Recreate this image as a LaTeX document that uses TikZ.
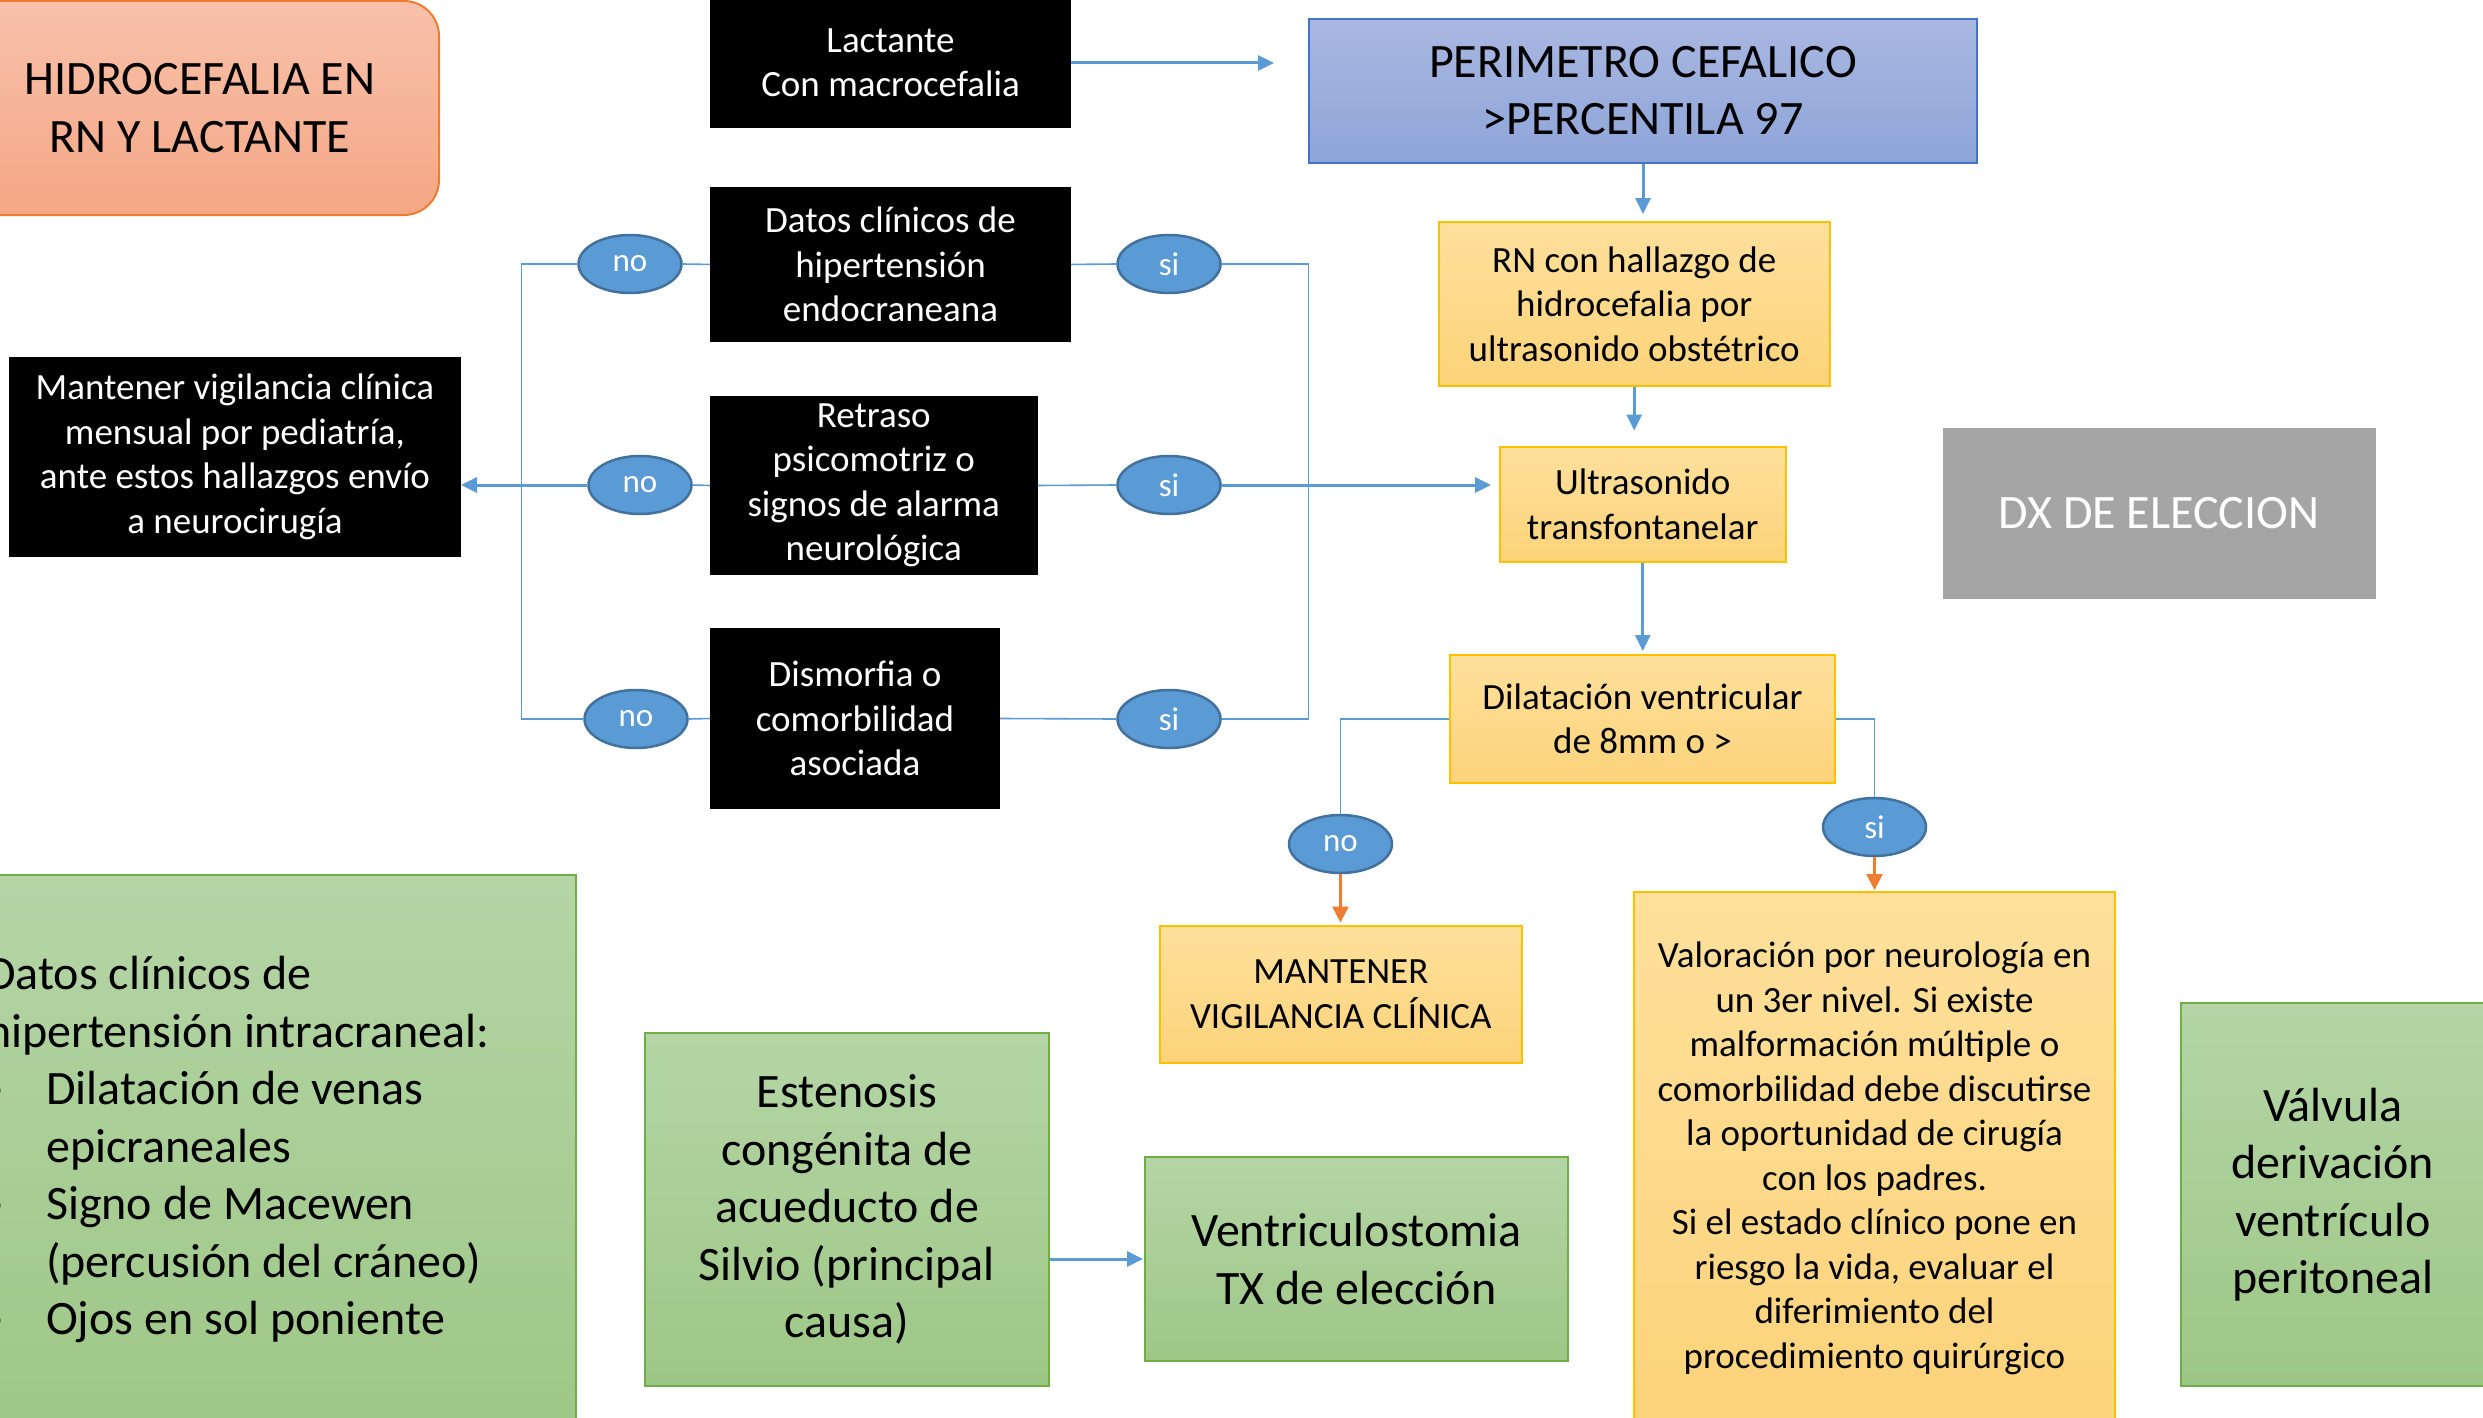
\documentclass[tikz,border=0pt]{standalone}
\usepackage{fontspec}
\setmainfont{Carlito}
\usetikzlibrary{arrows.meta,shapes.geometric}
\definecolor{lblue}{HTML}{5B9BD5}
\definecolor{dblue}{HTML}{41719C}
\definecolor{orng}{HTML}{ED7D31}
\definecolor{ytop}{RGB}{254,224,156}
\definecolor{ybot}{RGB}{253,211,122}
\definecolor{ybord}{HTML}{FFC000}
\definecolor{gtop}{RGB}{181,213,166}
\definecolor{gbot}{RGB}{157,199,134}
\definecolor{gbord}{HTML}{70AD47}
\definecolor{btop}{RGB}{169,183,225}
\definecolor{bbot}{RGB}{142,165,216}
\definecolor{bbord}{HTML}{4472C4}
\definecolor{otop}{RGB}{248,193,171}
\definecolor{obot}{RGB}{244,167,133}
\definecolor{gry}{HTML}{A5A5A5}
\newcommand\fsA{\fontsize{37}{44.5}\selectfont}
\newcommand\fsB{\fontsize{48}{57.5}\selectfont}
\newcommand\fsC{\fontsize{33}{38}\selectfont}
\begin{document}
\begin{tikzpicture}[x=1pt,y=-1pt,
  box/.style={rectangle, inner sep=0pt, align=center, line width=2pt},
  blk/.style={box, fill=black, draw=black, text=white, font=\fsA},
  ylw/.style={box, draw=ybord, top color=ytop, bottom color=ybot, font=\fsA},
  grn/.style={box, draw=gbord, top color=gtop, bottom color=gbot, font=\fsB},
  circ/.style={ellipse, inner sep=0pt, minimum width=103pt, minimum height=58pt, fill=lblue, draw=dblue, line width=2.5pt, text=white, font=\fsC},
  conn/.style={draw=lblue, line width=1.6pt},
  arr/.style={draw=lblue, line width=3pt, -{Triangle[length=16pt,width=15pt]}},
  oarr/.style={draw=orng, line width=2.5pt, -{Triangle[length=16pt,width=16pt]}}]
\useasboundingbox (0,0) rectangle (2483,1418);
\clip (0,0) rectangle (2483,1418);
\fill[white] (0,0) rectangle (2483,1418);

% boxes
\node[box, rounded corners=35pt, draw=orng, top color=otop, bottom color=obot, font=\fsB, minimum width=478pt, minimum height=214pt] (title) at (200,108) {HIDROCEFALIA EN\\RN Y LACTANTE};
\node[blk, minimum width=359pt, minimum height=128pt] (lact) at (890.5,63) {Lactante\\Con macrocefalia};
\node[box, draw=bbord, top color=btop, bottom color=bbot, font=\fsB, minimum width=668pt, minimum height=143.5pt] (peri) at (1643,90.75) {PERIMETRO CEFALICO\\>PERCENTILA 97};
\node[ylw, minimum width=390.5pt, minimum height=163.6pt] (rn) at (1634.25,303.8) {RN con hallazgo de\\hidrocefalia por\\ultrasonido obstétrico};
\node[ylw, minimum width=285.5pt, minimum height=115.3pt] (ultra) at (1642.75,504.15) {Ultrasonido\\transfontanelar};
\node[box, fill=gry, draw=gry, text=white, font=\fsB, minimum width=431pt, minimum height=169pt] (dx) at (2159,513.5) {DX DE ELECCION};
\node[blk, minimum width=359pt, minimum height=153.9pt] (datos) at (890.5,264.45) {Datos clínicos de\\hipertensión\\endocraneana};
\node[blk, minimum width=325.5pt, minimum height=177pt] (retraso) at (873.75,485.5) {Retraso\\psicomotriz o\\signos de alarma\\neurológica};
\node[blk, minimum width=288pt, minimum height=179pt] (dism) at (855,718.5) {Dismorfia o\\comorbilidad\\asociada};
\node[blk, minimum width=450pt, minimum height=198pt] (mant) at (235,457) {Mantener vigilancia clínica\\mensual por pediatría,\\ante estos hallazgos envío\\a neurocirugía};
\node[ylw, minimum width=385pt, minimum height=127.6pt] (dil) at (1642.5,718.8) {Dilatación ventricular\\de 8mm o >};
\node[ylw, minimum width=361.6pt, minimum height=137.5pt] (mv) at (1340.8,994.25) {MANTENER\\VIGILANCIA CLÍNICA};
\node[ylw, minimum width=481pt, minimum height=533pt] (val) at (1874.5,1158.5) {Valoración por neurología en\\un 3er nivel. Si existe\\malformación múltiple o\\comorbilidad debe discutirse\\la oportunidad de cirugía\\con los padres.\\Si el estado clínico pone en\\riesgo la vida, evaluar el\\diferimiento del\\procedimiento quirúrgico};
\node[grn, minimum width=304.4pt, minimum height=383pt] (valv) at (2332.8,1194.5) {Válvula\\derivación\\ventrículo\\peritoneal};
\node[grn, minimum width=423pt, minimum height=204pt] (ventr) at (1356.5,1259) {Ventriculostomia\\TX de elección};
\node[grn, minimum width=404pt, minimum height=353pt] (est) at (847,1209.5) {Estenosis\\congénita de\\acueducto de\\Silvio (principal\\causa)};
\node[grn, minimum width=625.5pt, minimum height=565pt] (gl) at (262.75,1157.5) {};
\node[anchor=west, align=left, inner sep=0pt, font=\fsB] (gltext) at (-14,1149.5) {Datos clínicos de\\hipertensión intracraneal:\\\rlap{\hspace*{6pt}\makebox[0pt][c]{•}}\hspace*{60pt}Dilatación de venas\\\hspace*{60pt}epicraneales\\\rlap{\hspace*{6pt}\makebox[0pt][c]{•}}\hspace*{60pt}Signo de Macewen\\\hspace*{60pt}(percusión del cráneo)\\\rlap{\hspace*{6pt}\makebox[0pt][c]{•}}\hspace*{60pt}Ojos en sol poniente};

% decision ellipses
\node[circ] (no1) at (630,264) {no};
\node[circ] (si1) at (1169,264) {si};
\node[circ] (no2) at (640,485) {no};
\node[circ] (si2) at (1169,485) {si};
\node[circ] (no3) at (636,719) {no};
\node[circ] (si3) at (1169,719) {si};
\node[circ] (no4) at (1340.5,844) {no};
\node[circ] (si4) at (1874.5,827) {si};

\coordinate (lv) at (521.6,264);
\coordinate (rv) at (1308.5,264);

% connectors left
\draw[conn] (datos.west) -- (no1.east);
\draw[conn] (no1.west) -- (lv) |- (no3.west);
\draw[conn] (retraso.west) -- (no2.east);
\draw[arr] (no2.west) -- (mant.east |- no2.west);
\draw[conn] (dism.west) -- (no3.east);
% connectors right
\draw[conn] (datos.east) -- (si1.west);
\draw[conn] (si1.east) -- (rv) |- (si3.east);
\draw[conn] (retraso.east) -- (si2.west);
\draw[arr, shorten >=8pt] (si2.east) -- (ultra.west |- si2.east);
\draw[conn] (dism.east) -- (si3.west);
% main chain
\draw[arr, shorten >=34pt] (lact.east) -- (peri.west |- lact.east);
\draw[arr, shorten >=7pt] (peri.south) -- (peri.south |- rn.north);
\draw[arr, shorten >=15pt] (rn.south) -- (rn.south |- ultra.north);
\draw[arr, shorten >=3pt] (ultra.south) -- (ultra.south |- dil.north);
\draw[conn] (dil.west) -| (no4.north);
\draw[oarr, shorten >=2pt] (no4.south) -- (no4.south |- mv.north);
\draw[conn] (dil.east) -| (si4.north);
\draw[oarr, shorten >=1pt] (si4.south) -- (si4.south |- val.north);
\draw[arr, shorten >=1pt] (est.east |- ventr.west) -- (ventr.west);
\end{tikzpicture}
\end{document}
